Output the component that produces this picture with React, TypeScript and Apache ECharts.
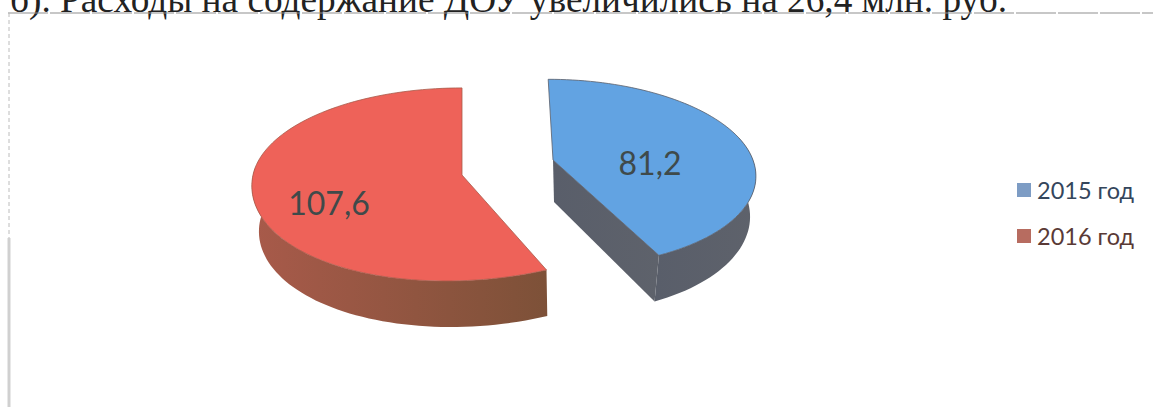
import React, { useEffect, useRef } from "react";
import * as echarts from "echarts";

const categories = ["2015 год", "2016 год"];
const values = [81.2, 107.6];
const headingText = "б). Расходы на содержание ДОУ увеличились на 26,4 млн. руб.";

type Ring = { ax: number; ay: number; rx: number; ry: number; k: number; lean: number; skew: number };
type Look = {
  top: Ring; bottom: Ring; topColor: string; sideFrom: string; sideTo: string;
  edgeWall: boolean; labelX: number; labelY: number;
};

const looks: Look[] = [
  {
    top: { ax: 553, ay: 160, rx: 200, ry: 92, k: 0.14, lean: -3, skew: -5.5 },
    bottom: { ax: 554, ay: 202, rx: 194, ry: 96, k: 0.14, lean: -6.5, skew: 0 },
    topColor: "#62a3e2", sideFrom: "#595e6a", sideTo: "#5e626b",
    edgeWall: true, labelX: 650, labelY: 162,
  },
  {
    top: { ax: 462, ay: 175, rx: 209, ry: 95.6, k: 0.098, lean: 14.5, skew: 0 },
    bottom: { ax: 462, ay: 221, rx: 202, ry: 95.6, k: 0.098, lean: 10, skew: 0 },
    topColor: "#ee6259", sideFrom: "#a85a4a", sideTo: "#7d5138",
    edgeWall: false, labelX: 329, labelY: 202,
  },
];

const total = values.reduce((a, b) => a + b, 0);

function project(r: Ring, deg: number): number[] {
  const t = (deg * Math.PI) / 180;
  const u = Math.sin(t);
  const v = Math.cos(t);
  const d = 1 + r.k * v;
  const extra = v < 0 ? r.lean * v * Math.abs(v) : 0;
  return [r.ax + (r.rx * u + r.skew * v + extra) / d, r.ay - (r.ry * v) / d];
}

function arc(r: Ring, from: number, to: number): number[][] {
  const pts: number[][] = [];
  const n = Math.max(2, Math.ceil(Math.abs(to - from) / 2));
  for (let i = 0; i <= n; i++) pts.push(project(r, from + ((to - from) * i) / n));
  return pts;
}

function sliceRenderer(index: number) {
  const start = (values.slice(0, index).reduce((a, b) => a + b, 0) / total) * 360;
  return (_params: any, api: any) => {
    const value = api.value(0);
    const end = start + (value / total) * 360;
    const look = looks[index];
    const children: any[] = [];
    const side = new echarts.graphic.LinearGradient(0, 0, 1, 0, [
      { offset: 0, color: look.sideFrom },
      { offset: 1, color: look.sideTo },
    ]);
    const wallFrom = Math.max(start, 75);
    const wallTo = Math.min(end, 275);
    children.push({
      type: "polygon",
      shape: { points: [...arc(look.top, wallFrom, wallTo), ...arc(look.bottom, wallTo, wallFrom)] },
      style: { fill: side },
    });
    if (look.edgeWall) {
      children.push({
        type: "polygon",
        shape: {
          points: [
            [look.top.ax, look.top.ay], project(look.top, end),
            project(look.bottom, end), [look.bottom.ax, look.bottom.ay],
          ],
        },
        style: { fill: side },
      });
    }
    children.push({
      type: "polygon",
      shape: { points: [[look.top.ax, look.top.ay], ...arc(look.top, start, end)] },
      style: { fill: look.topColor, stroke: look.sideFrom, lineWidth: 0.8 },
    });
    children.push({
      type: "text",
      style: {
        text: String(value).replace(".", ","),
        x: look.labelX, y: look.labelY, align: "center", verticalAlign: "middle",
        fontFamily: "Lato", fontSize: 32, fill: "#3f4a4a",
      },
    });
    return { type: "group", children };
  };
}

export default function App() {
  const ref = useRef<HTMLDivElement>(null);
  useEffect(() => {
    const chart = echarts.init(ref.current!, null, { renderer: "svg" });
    chart.setOption({
      animation: false,
      backgroundColor: "#ffffff",
      legend: {
        orient: "vertical", left: 1012, top: 173, itemWidth: 14, itemHeight: 14, itemGap: 22,
        icon: "rect", selectedMode: false,
        textStyle: { fontFamily: "Lato", fontSize: 23.5, padding: [0, 0, 0, 1] },
        data: [
          { name: categories[0], itemStyle: { color: "#7d9cc4" }, textStyle: { color: "#34465c" } },
          { name: categories[1], itemStyle: { color: "#b76c60" }, textStyle: { color: "#5a3a36" } },
        ],
      },
      graphic: [
        { type: "text", style: { text: headingText, x: 10, y: 18, verticalAlign: "bottom", fontFamily: "Liberation Serif", fontSize: 37.3, fill: "#222222" } },
        { type: "line", shape: { x1: 8, y1: 13, x2: 1153, y2: 13 }, style: { stroke: "#8f8f8f", lineWidth: 1, lineDash: [40, 2] } },
        { type: "line", shape: { x1: 9, y1: 13, x2: 9, y2: 238 }, style: { stroke: "#bcbcbc", lineWidth: 1, lineDash: [4, 3] } },
        { type: "line", shape: { x1: 9, y1: 238, x2: 9, y2: 407 }, style: { stroke: "#d0d0d0", lineWidth: 3 } },
      ],
      series: categories.map((name, i) => ({
        type: "custom", name, coordinateSystem: "none",
        data: [[values[i]]], renderItem: sliceRenderer(i), silent: true,
      })),
    });
    return () => chart.dispose();
  }, []);
  return <div ref={ref} style={{ position: "fixed", left: 0, top: 0, width: 1153, height: 407 }} />;
}
